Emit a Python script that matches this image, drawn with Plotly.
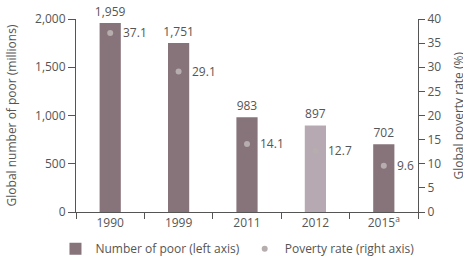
import plotly.graph_objects as go

years = ["1990", "1999", "2011", "2012", "2015<sup>a</sup>"]
poor_millions = [1959, 1751, 983, 897, 702]
poverty_rate = [37.1, 29.1, 14.1, 12.7, 9.6]
bar_colors = ["#87737a", "#87737a", "#87737a", "#b7a9b2", "#87737a"]

FONT = "Open Sans, Noto Sans, sans-serif"
TXT = "#555555"
FS = 12

fig = go.Figure()
fig.add_trace(go.Bar(
    x=years, y=poor_millions, name="Number of poor (left axis)",
    marker=dict(color=bar_colors, line=dict(width=0)),
    width=0.31,
    text=[f"{v:,}" for v in poor_millions], textposition="outside",
    constraintext="none",
    textfont=dict(size=FS, color=TXT), cliponaxis=False,
    yaxis="y",
))
fig.add_trace(go.Scatter(
    x=years, y=poverty_rate, name="Poverty rate (right axis)",
    mode="markers", marker=dict(color="#b5adae", size=6, symbol="circle"),
    yaxis="y2", cliponaxis=False,
))
for i, r in enumerate(poverty_rate):
    fig.add_annotation(x=i, y=r, yref="y2", xref="x", text=f"{r}",
                       showarrow=False, xanchor="left", xshift=11,
                       font=dict(size=FS, color=TXT))

# right axis title (rotated text, partly running off the right edge as in the source)
fig.add_annotation(x=1, y=0.5, xref="paper", yref="paper", text="Global poverty rate (%)",
                   textangle=-90, showarrow=False, xanchor="center", yanchor="middle",
                   xshift=40, font=dict(size=FS, color=TXT))

fig.update_layout(
    width=463, height=265,
    margin=dict(l=76, r=45, t=19, b=53, autoexpand=False),
    paper_bgcolor="white", plot_bgcolor="white",
    font=dict(family=FONT, size=FS, color=TXT),
    showlegend=True,
    legend=dict(orientation="h", x=-0.06, xanchor="left", y=-0.115, yanchor="top",
                font=dict(size=FS, color=TXT), itemwidth=30,
                bgcolor="rgba(0,0,0,0)"),
    xaxis=dict(type="category", range=[-0.5, len(years) - 0.5], automargin=False,
               showline=True, linecolor="#555555", linewidth=1,
               ticks="outside", tickson="boundaries", ticklen=6, tickcolor="#555555",
               showgrid=False, tickfont=dict(size=FS, color=TXT)),
    yaxis=dict(range=[0, 2000], tickvals=[0, 500, 1000, 1500, 2000], automargin=False,
               tickformat=",", showline=True, linecolor="#555555", linewidth=1,
               ticks="outside", ticklen=7, tickcolor="#555555", showgrid=False,
               zeroline=False,
               title=dict(text="Global number of poor (millions)", font=dict(size=FS, color=TXT))),
    yaxis2=dict(range=[0, 40], dtick=5, overlaying="y", side="right", automargin=False,
                showline=True, linecolor="#555555", linewidth=1,
                ticks="outside", ticklen=6, tickcolor="#555555", showgrid=False,
                zeroline=False),
)

fig.write_html("out.html", config={"displayModeBar": False},
               post_script="document.body.style.margin='0px';")
